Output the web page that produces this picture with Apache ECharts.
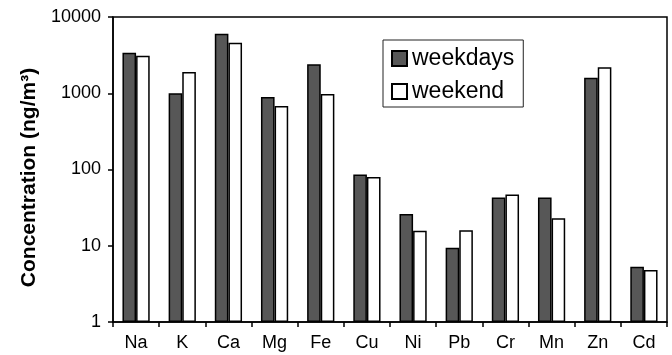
<!DOCTYPE html>
<html><head><meta charset="utf-8">
<script src="https://cdn.jsdelivr.net/npm/echarts@6/dist/echarts.min.js"></script>
<style>html,body{margin:0;padding:0;background:#fff}#c{width:672px;height:355px}</style>
</head><body><div id="c"></div>
<script>
const categories = ['Na','K','Ca','Mg','Fe','Cu','Ni','Pb','Cr','Mn','Zn','Cd'];
const weekdays = [3400, 1000, 6050, 890, 2400, 86, 26, 9.4, 43, 43, 1600, 5.3];
const weekend  = [3100, 1900, 4600, 680, 980, 80, 15.7, 16, 47, 23, 2200, 4.8];
const yTicks = [1, 10, 100, 1000, 10000];

const font = 'Liberation Sans, Arial, sans-serif';
const chart = echarts.init(document.getElementById('c'), null, {renderer:'canvas'});
chart.setOption({
  animation: false,
  backgroundColor: '#fff',
  grid: {left: 113, right: 5, top: 17, bottom: 33, show: true, borderColor: '#000', borderWidth: 1.5, backgroundColor: 'transparent'},
  legend: {
    orient: 'vertical', left: 383, top: 40,
    itemWidth: 15, itemHeight: 15, itemGap: 10,
    padding: [7, 9, 4, 8],
    borderColor: '#222', borderWidth: 1,
    textStyle: {fontFamily: font, fontSize: 23, lineHeight: 23, color: '#000'},
    icon: 'rect',
    data: ['weekdays','weekend']
  },
  xAxis: {
    type: 'category', data: categories,
    axisLine: {lineStyle: {color: '#000', width: 1.5}},
    axisTick: {show: true, length: 5, lineStyle: {color: '#000', width: 1.5}},
    axisLabel: {fontFamily: font, fontSize: 18, color: '#000', margin: 12},
    splitLine: {show: false}
  },
  yAxis: {
    type: 'log', logBase: 10, min: 1, max: 10000,
    axisLine: {show: true, lineStyle: {color: '#000', width: 1.5}},
    axisTick: {show: true, length: 5, lineStyle: {color: '#000', width: 1.5}},
    minorTick: {show: false},
    axisLabel: {fontFamily: font, fontSize: 18, color: '#000', margin: 12,
      formatter: v => yTicks.includes(Math.round(v)) ? String(Math.round(v)) : ''},
    splitLine: {show: false},
    name: 'Concentration (ng/m³)', nameLocation: 'middle', nameGap: 68,
    nameTextStyle: {fontFamily: font, fontSize: 21, fontWeight: 'bold', color: '#000', padding: [0, 16, 0, 0]}
  },
  series: [
    {name: 'weekdays', type: 'bar', data: weekdays, barGap: '0%', barCategoryGap: '41%',
     itemStyle: {color: '#575757', borderColor: '#000', borderWidth: 1.5}},
    {name: 'weekend', type: 'bar', data: weekend, barGap: '0%', barCategoryGap: '41%',
     itemStyle: {color: '#fff', borderColor: '#000', borderWidth: 1.5}}
  ]
});
</script></body></html>
